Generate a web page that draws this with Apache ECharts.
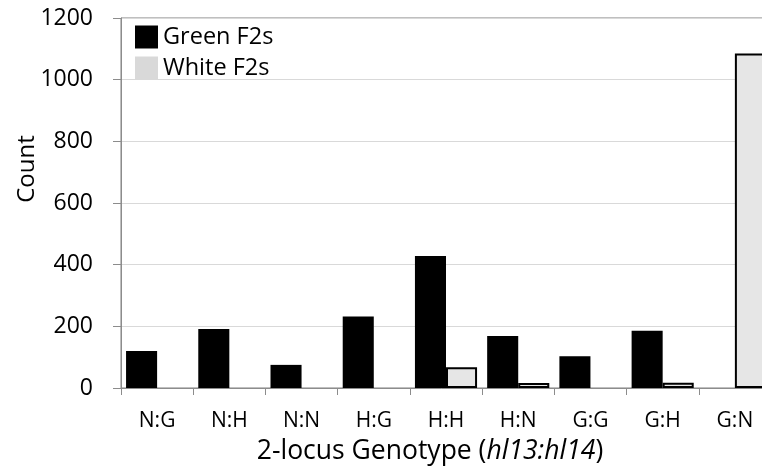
<!DOCTYPE html>
<html>
<head>
<meta charset="utf-8">
<script src="https://cdn.jsdelivr.net/npm/echarts@6/dist/echarts.min.js"></script>
<style>html,body{margin:0;padding:0;background:#fff;}#c{width:762px;height:467px;}</style>
</head>
<body>
<div id="c"></div>
<script>
const categories = ['N:G','N:H','N:N','H:G','H:H','H:N','G:G','G:H','G:N'];
const greenF2s = [120, 191, 75, 232, 428, 169, 103, 186, 0];
const whiteF2s = [0, 0, 0, 0, 67, 16, 0, 17, 1085];
const yTicks = { min: 0, max: 1200, interval: 200 };

const font = 'Open Sans';
const chart = echarts.init(document.getElementById('c'), null, { renderer: 'canvas' });

function toData(arr, withBorder) {
  return arr.map(v => v === 0 && withBorder ? { value: v, itemStyle: { borderWidth: 0 } } : v);
}

chart.setOption({
  animation: false,
  backgroundColor: '#fff',
  textStyle: { fontFamily: font },
  grid: { left: 121, top: 18, width: 650, height: 370, show: true, borderColor: '#7f7f7f', borderWidth: 1, backgroundColor: 'transparent', outerBoundsMode: 'none', containLabel: false },
  legend: {
    orient: 'vertical', left: 130, top: 20, itemWidth: 23, itemHeight: 23, itemGap: 7,
    textStyle: { fontFamily: font, fontSize: 23.5, color: '#000' },
    data: [
      { name: 'Green F2s', icon: 'rect', itemStyle: { color: '#000', borderWidth: 0 } },
      { name: 'White F2s', icon: 'rect', itemStyle: { color: '#d9d9d9', borderWidth: 0 } }
    ]
  },
  xAxis: {
    type: 'category', data: categories,
    axisLine: { lineStyle: { color: '#8c8c8c', width: 1 } },
    axisTick: { show: true, length: 7, lineStyle: { color: '#8c8c8c' } },
    axisLabel: { fontFamily: font, fontSize: 21, color: '#000', margin: 23 },
    name: '{n|2-locus Genotype (}{i|hl13:hl14}{n|)}',
    nameLocation: 'middle', nameGap: 50, nameMoveOverlap: false,
    nameTextStyle: {
      padding: [0, 32, 0, 0],
      rich: {
        n: { fontFamily: font, fontSize: 26.5, color: '#000' },
        i: { fontFamily: font, fontSize: 26.5, color: '#000', fontStyle: 'italic' }
      }
    }
  },
  yAxis: {
    type: 'value', min: yTicks.min, max: yTicks.max, interval: yTicks.interval,
    axisLine: { show: true, lineStyle: { color: '#8c8c8c', width: 1 } },
    axisTick: { show: true, length: 8, lineStyle: { color: '#8c8c8c' } },
    axisLabel: { fontFamily: font, fontSize: 23, color: '#000', margin: 28, formatter: v => String(v) },
    splitLine: { lineStyle: { color: '#d9d9d9', width: 1 } },
    name: 'Count', nameLocation: 'middle', nameGap: 82, nameMoveOverlap: false,
    nameTextStyle: { fontFamily: font, fontSize: 24, color: '#000', padding: [0, 0, 0, 68] }
  },
  series: [
    {
      name: 'Green F2s', type: 'bar', data: toData(greenF2s, false),
      barGap: '0%', barCategoryGap: '14%',
      itemStyle: { color: '#000' }
    },
    {
      name: 'White F2s', type: 'bar', data: toData(whiteF2s, true),
      barGap: '0%', barCategoryGap: '14%',
      itemStyle: { color: '#e6e6e6', borderColor: '#000', borderWidth: 2 }
    }
  ]
});
</script>
</body>
</html>
